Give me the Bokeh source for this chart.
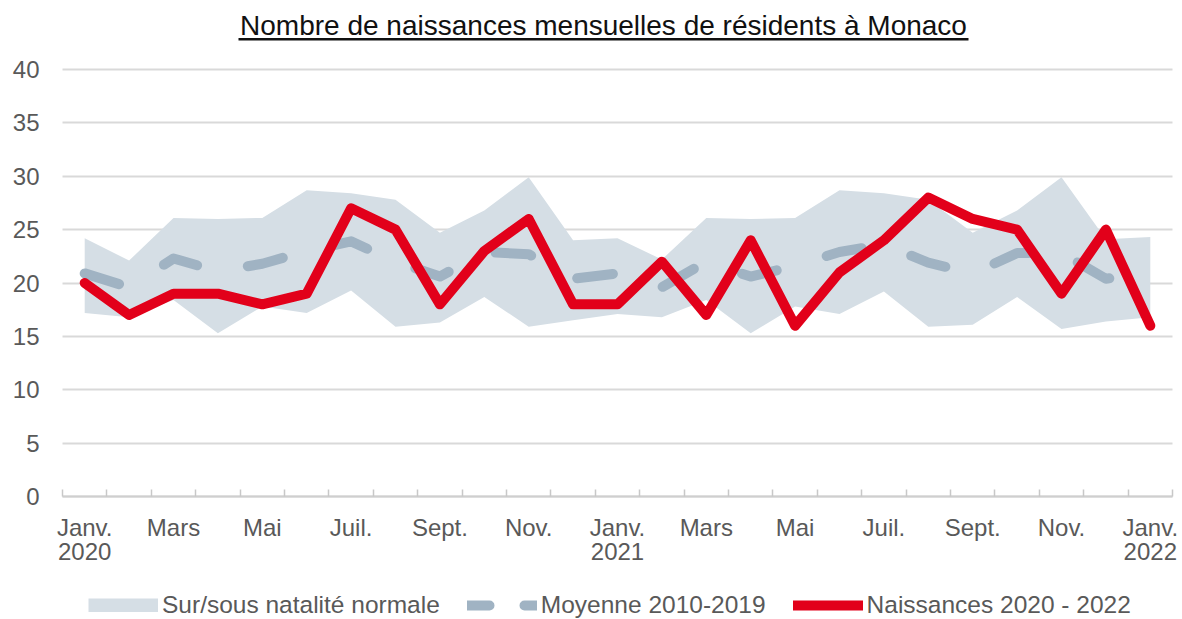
from bokeh.plotting import figure
from bokeh.models import (Range1d, FixedTicker, ColumnDataSource, Legend, LegendItem,
                          Label, BoxAnnotation, LinearAxis)
from bokeh.embed import file_html
from bokeh.resources import INLINE

# ---- data ----
months = ["Janv. 2020", "Févr. 2020", "Mars 2020", "Avr. 2020", "Mai 2020", "Juin 2020",
          "Juil. 2020", "Août 2020", "Sept. 2020", "Oct. 2020", "Nov. 2020", "Déc. 2020",
          "Janv. 2021", "Févr. 2021", "Mars 2021", "Avr. 2021", "Mai 2021", "Juin 2021",
          "Juil. 2021", "Août 2021", "Sept. 2021", "Oct. 2021", "Nov. 2021", "Déc. 2021",
          "Janv. 2022"]
naissances = [20, 17, 19, 19, 18, 19, 27, 25, 18, 23, 26, 18,
              18, 22, 17, 24, 16, 21, 24, 28, 26, 25, 19, 25, 16]
moyenne = [20.9, 19.6, 22.3, 21.1, 21.8, 23.0, 23.9, 22.0, 20.6, 22.9, 22.7, 20.4,
           20.9, 19.6, 22.0, 20.6, 21.6, 22.9, 23.6, 21.9, 20.9, 22.8, 22.8, 20.4,
           20.9]
band_haut = [24.2, 22.1, 26.1, 26.0, 26.1, 28.7, 28.4, 27.8, 24.7, 26.8, 29.9, 24.0,
             24.2, 22.2, 26.1, 26.0, 26.1, 28.7, 28.4, 27.8, 24.7, 26.8, 29.9, 24.1,
             24.3]
band_bas = [17.2, 16.8, 18.4, 15.3, 17.8, 17.2, 19.3, 15.9, 16.3, 18.7, 15.9, 16.5,
            17.1, 16.8, 18.4, 15.3, 17.8, 17.1, 19.2, 15.9, 16.1, 18.7, 15.7, 16.4,
            16.8]
month_labels = ["Janv.", "Mars", "Mai", "Juil.", "Sept.", "Nov.",
                "Janv.", "Mars", "Mai", "Juil.", "Sept.", "Nov.", "Janv."]
year_labels = ["2020", "2021", "2022"]
y_ticks = [0, 5, 10, 15, 20, 25, 30, 35, 40]
title_text = "Nombre de naissances mensuelles de résidents à Monaco"

FONT = "Liberation Sans"
GREY_TXT = "#595959"
GRID = "#d9d9d9"
BAND = "#d5dee5"
MEAN = "#a0b3c3"
RED = "#e2001a"

W, H = 1182, 619
n = len(months)
xs = [i + 0.5 for i in range(n)]
src = ColumnDataSource(dict(x=xs, mois=months, naissances=naissances, moyenne=moyenne,
                            haut=band_haut, bas=band_bas))

# the frame covers the whole canvas: months 0..25 -> columns 62..1172, 0..40 -> rows 496..69
px_x = (1172 - 62) / n
px_y = (496 - 69) / 40.0
x_lo, x_hi = -62 / px_x, n + (W - 1172) / px_x
y_lo, y_hi = -(H - 496) / px_y, 496 / px_y

p = figure(width=W, height=H, output_backend="svg", toolbar_location=None,
           x_range=Range1d(x_lo, x_hi), y_range=Range1d(y_lo, y_hi),
           min_border_left=0, min_border_right=0, min_border_top=0, min_border_bottom=0)
p.outline_line_color = None
p.background_fill_color = "white"
p.border_fill_color = "white"

band_r = p.varea(x="x", y1="bas", y2="haut", source=src, fill_color=BAND, fill_alpha=1.0)
mean_r = p.line(x="x", y="moyenne", source=src, line_color=MEAN, line_width=10,
                line_dash="36 52", line_cap="round", line_join="round")
red_r = p.line(x="x", y="naissances", source=src, line_color=RED, line_width=10,
               line_cap="round", line_join="round")

# legend-only renderers (draw nothing in the plot)
band_leg = p.line(x=[float("nan")], y=[float("nan")], line_color=BAND, line_width=14,
                  line_cap="butt")
mean_leg = p.line(x=[float("nan")], y=[float("nan")], line_color=MEAN, line_width=10,
                  line_dash="22 35", line_cap="round")

# x axis: month labels
month_pos = [xs[i] for i in range(0, n, 2)]
xaxis = p.xaxis[0]
xaxis.fixed_location = 0
xaxis.bounds = (0, n)
xaxis.ticker = FixedTicker(ticks=month_pos, minor_ticks=list(range(n + 1)))
xaxis.major_label_overrides = {t: lab for t, lab in zip(month_pos, month_labels)}
xaxis.major_tick_line_color = None
xaxis.major_tick_in = 0
xaxis.major_tick_out = 0
xaxis.minor_tick_in = 7
xaxis.minor_tick_out = 0
xaxis.minor_tick_line_color = "#c8c8c8"
xaxis.minor_tick_line_width = 1.5
xaxis.axis_line_color = "#cfcfcf"
xaxis.axis_line_width = 2
xaxis.major_label_text_font = FONT
xaxis.major_label_text_font_size = "24px"
xaxis.major_label_text_color = GREY_TXT
xaxis.major_label_standoff = 17

# second line of labels: years
year_pos = [xs[0], xs[12], xs[24]]
year_axis = LinearAxis(fixed_location=0, bounds=(0, n),
                       ticker=FixedTicker(ticks=year_pos),
                       major_label_overrides={t: lab for t, lab in zip(year_pos, year_labels)},
                       axis_line_color=None, major_tick_line_color=None,
                       minor_tick_line_color=None, major_tick_in=0, major_tick_out=0,
                       major_label_text_font=FONT, major_label_text_font_size="24px",
                       major_label_text_color=GREY_TXT, major_label_standoff=46)
p.add_layout(year_axis, "below")

yaxis = p.yaxis[0]
yaxis.fixed_location = 0
yaxis.bounds = (0, 40)
yaxis.ticker = FixedTicker(ticks=y_ticks)
yaxis.axis_line_color = None
yaxis.major_tick_line_color = None
yaxis.minor_tick_line_color = None
yaxis.major_label_text_font = FONT
yaxis.major_label_text_font_size = "24px"
yaxis.major_label_text_color = GREY_TXT
yaxis.major_label_standoff = 17

p.xgrid.grid_line_color = None
p.ygrid.ticker = FixedTicker(ticks=y_ticks)
p.ygrid.cross_bounds = (0, n)
p.ygrid.grid_line_color = GRID
p.ygrid.grid_line_width = 2

# legend
legend = Legend(items=[
    LegendItem(label="Sur/sous natalité normale", renderers=[band_r, band_leg]),
    LegendItem(label="Moyenne 2010-2019", renderers=[mean_leg]),
    LegendItem(label="Naissances 2020 - 2022", renderers=[red_r]),
], orientation="horizontal", location=(88, 0), glyph_width=70, glyph_height=14,
    label_standoff=4, spacing=27, padding=0, margin=0,
    label_text_font=FONT, label_text_font_size="24.5px", label_text_color=GREY_TXT,
    border_line_color=None, background_fill_alpha=0)
p.add_layout(legend, "center")

# title with underline (screen units, from the frame's bottom-left)
title = Label(x=603, y=H - 25, x_units="screen", y_units="screen", text=title_text,
              text_font=FONT, text_font_size="28px", text_color="#111111",
              text_align="center", text_baseline="alphabetic")
p.add_layout(title)
underline = BoxAnnotation(left=238, right=968, top=H - 37.5, bottom=H - 40,
                          left_units="screen", right_units="screen",
                          top_units="screen", bottom_units="screen",
                          fill_color="#111111", fill_alpha=1, line_color=None)
p.add_layout(underline)

html = file_html(p, INLINE)
open("out.html", "w").write(html)
